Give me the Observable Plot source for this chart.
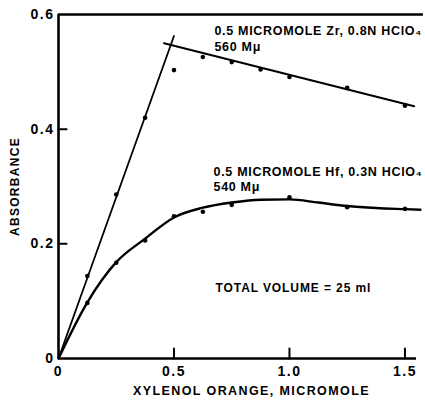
<!DOCTYPE html>
<html>
<head>
<meta charset="utf-8">
<script src="https://cdn.jsdelivr.net/npm/d3@7"></script>
<script src="https://cdn.jsdelivr.net/npm/@observablehq/plot@0.6"></script>
<style>
  html, body { margin: 0; padding: 0; background: #fff; }
  #chart svg { display: block; }
</style>
</head>
<body>
<div id="chart"></div>
<script>
// Xylenol orange (micromole) vs. absorbance
const xTicks = [0, 0.5, 1.0, 1.5];
const xTickLabels = ["0", "0.5", "1.0", "1.5"];
const yTicks = [0, 0.2, 0.4, 0.6];
const yTickLabels = ["0", "0.2", "0.4", "0.6"];

// Zr, 0.8N HClO4, 560 mµ — measured points
const zrX = [0.125, 0.25, 0.375, 0.5, 0.625, 0.75, 0.875, 1.0, 1.25, 1.5];
const zrY = [0.144, 0.286, 0.42, 0.503, 0.526, 0.517, 0.504, 0.491, 0.472, 0.441];
// Zr fitted straight lines (rising and falling branches)
const zrRiseX = [0, 0.5];
const zrRiseY = [0, 0.5625];
const zrFallX = [0.457, 1.54];
const zrFallY = [0.55, 0.44];

// Hf, 0.3N HClO4, 540 mµ — measured points
const hfX = [0.125, 0.25, 0.375, 0.5, 0.625, 0.75, 1.0, 1.25, 1.5];
const hfY = [0.097, 0.167, 0.206, 0.248, 0.256, 0.268, 0.281, 0.264, 0.261];
// Hf smooth curve
const hfCurveX = [0, 0.125, 0.25, 0.375, 0.5, 0.625, 0.75, 0.875, 1.0, 1.125, 1.25, 1.375, 1.5, 1.567];
const hfCurveY = [0, 0.098, 0.168, 0.209, 0.246, 0.263, 0.272, 0.277, 0.2775, 0.272, 0.266, 0.2625, 0.2605, 0.2595];

const zrLabel = ["0.5 MICROMOLE Zr, 0.8N HClO\u2084", "560 M\u03bc"];
const hfLabel = ["0.5 MICROMOLE Hf, 0.3N HClO\u2084", "540 M\u03bc"];
const noteLabel = "TOTAL VOLUME = 25 ml";
const xTitle = "XYLENOL ORANGE, MICROMOLE";
const yTitle = "ABSORBANCE";

const pts = (xs, ys) => xs.map((x, i) => ({x, y: ys[i]}));

// short tick segments pointing into the frame (lengths in data units)
const tickLenY = 0.0175, tickLenX = 0.035;
const tickSegs = [
  ...xTicks.slice(1).flatMap(t => [{k: "x" + t, x: t, y: 0}, {k: "x" + t, x: t, y: tickLenY}]),
  ...yTicks.slice(1, 3).flatMap(t => [{k: "y" + t, x: 0, y: t}, {k: "y" + t, x: tickLenX, y: t}])
];

const font = {fontFamily: "Liberation Sans, Arial, sans-serif", fontWeight: "bold"};

const chart = Plot.plot({
  width: 425,
  height: 401,
  marginLeft: 58,
  marginRight: 9,
  marginTop: 14,
  marginBottom: 43,
  x: {domain: [0, 1.55]},
  y: {domain: [0, 0.6]},
  style: {background: "#fff", color: "#000", fontFamily: font.fontFamily, fontWeight: "bold", fontSize: "14px"},
  marks: [
    // tick labels
    Plot.axisX({ticks: xTicks, tickSize: 0, tickPadding: 8, tickFormat: (d, i) => xTickLabels[i], label: null, fontSize: 14}),
    Plot.axisY({ticks: yTicks, tickSize: 0, tickPadding: 4, tickFormat: (d, i) => yTickLabels[i], label: null, fontSize: 14}),
    // inward ticks
    Plot.line(tickSegs, {x: "x", y: "y", z: "k", stroke: "#000", strokeWidth: 2}),
    // frame: left, bottom, top
    Plot.ruleX([0], {strokeWidth: 2.6}),
    Plot.ruleY([0], {strokeWidth: 2.6}),
    Plot.ruleY([0.6], {x1: 0, x2: 1.58, strokeWidth: 2.6}),
    // Zr
    Plot.line(pts(zrRiseX, zrRiseY), {x: "x", y: "y", strokeWidth: 1.8}),
    Plot.line(pts(zrFallX, zrFallY), {x: "x", y: "y", strokeWidth: 2}),
    Plot.dot(pts(zrX, zrY), {x: "x", y: "y", r: 2.3, fill: "#000"}),
    // Hf
    Plot.line(pts(hfCurveX, hfCurveY), {x: "x", y: "y", curve: "monotone-x", strokeWidth: 2.4}),
    Plot.dot(pts(hfX, hfY), {x: "x", y: "y", r: 2.3, fill: "#000"}),
    // annotations
    Plot.text([zrLabel.join("\n")], {x: 0.675, y: 0.559, text: d => d, textAnchor: "start", lineHeight: 1.3, fontSize: 12.5, ...font}),
    Plot.text([hfLabel.join("\n")], {x: 0.671, y: 0.313, text: d => d, textAnchor: "start", lineHeight: 1.2, fontSize: 12.5, ...font}),
    Plot.text([noteLabel], {x: 0.68, y: 0.122, text: d => d, textAnchor: "start", fontSize: 12, ...font}),
    // axis titles
    Plot.text([xTitle], {frameAnchor: "bottom", dx: 14, dy: 36, text: d => d, fontSize: 12.5, ...font}),
    Plot.text([yTitle], {frameAnchor: "left", textAnchor: "middle", dx: -43, rotate: -90, text: d => d, fontSize: 12, ...font})
  ]
});

document.getElementById("chart").appendChild(chart);

// wide lettering: spread characters per kind of text
const spacing = new Map([[xTitle, "1.4px"], [yTitle, "1.3px"], [noteLabel, "0.9px"]]);
d3.select(chart).selectAll("text").each(function() {
  const t = this.textContent;
  let ls = "0.7px";
  if (spacing.has(t)) ls = spacing.get(t);
  else if (yTickLabels.includes(t) || xTickLabels.includes(t)) ls = "1.5px";
  this.style.letterSpacing = ls;
});
</script>
</body>
</html>
